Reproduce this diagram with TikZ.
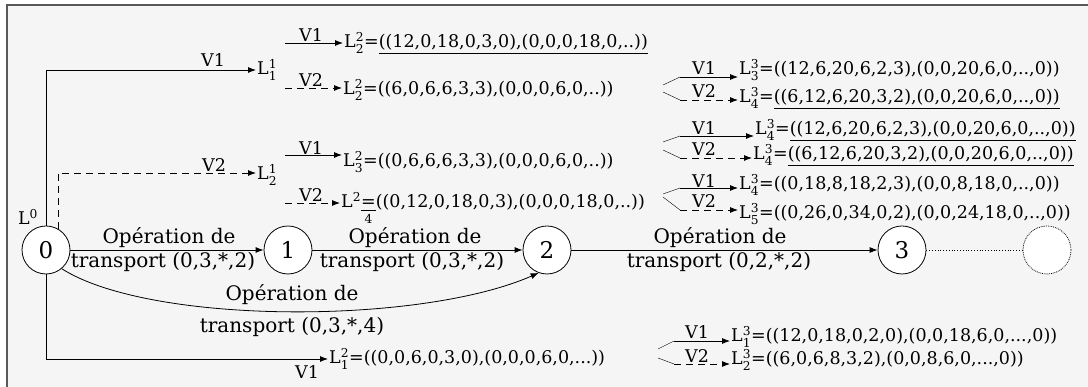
\documentclass[tikz,border=0pt]{standalone}
\usepackage{amsmath}
\usepackage{fontspec}
\setmainfont{DejaVu Serif}
\usepackage{tikz}
\usetikzlibrary{arrows.meta,positioning}

\tikzset{
  etat/.style={circle,draw,fill=white,minimum size=48pt,inner sep=0pt,line width=0.8pt,font=\fontsize{23}{25}\selectfont},
  lig/.style={font=\fontsize{17.5}{19}\selectfont,inner sep=1pt},
  op/.style={font=\fontsize{20}{22}\selectfont,inner sep=1pt,anchor=base},
  fl/.style={-{Latex[length=8pt,width=6pt]},line width=0.8pt},
  tir/.style={dash pattern=on 7pt off 5pt},
}
\newcommand{\Lx}[2]{L$^{\text{#2}}_{\text{#1}}$}

\begin{document}
\begin{tikzpicture}[x=1pt,y=1pt]
\useasboundingbox (0,0) rectangle (1088,387);
\draw[draw=black!65,fill=black!4,line width=1.2pt] (7,-3) rectangle (1092,382);

% etats
\node[etat] (n0) at (46,137) {0};
\node[etat] (n1) at (288,137) {1};
\node[etat] (n2) at (547,137) {2};
\node[etat] (n3) at (902,137) {3};
\node[etat,densely dotted] (n4) at (1047,137) {};
\node[lig] (l0) at (28,170) {L$^{\text{0}}$};

\draw[fl] (n0) -- (n1);
\draw[fl] (n1) -- (n2);
\draw[fl] (n2) -- (n3);
\draw[dotted,line width=0.8pt] (n3) -- (n4);
\draw[fl] (n0.-50) .. controls (150,62) and (420,62) .. (n2.-110);
\node[op] (o1a) at (169,143) {Opération de};
\node[op] (o1b) at (163,119) {transport (0,3,*,2)};
\node[op] (o2a) at (415,143) {Opération de};
\node[op] (o2b) at (412,119) {transport (0,3,*,2)};
\node[op] (o3a) at (720,143) {Opération de};
\node[op] (o3b) at (719,119) {transport (0,2,*,2)};
\node[op] (o4a) at (292,86) {Opération de};
\node[op] (o4b) at (292,54) {transport (0,3,*,4)};

% niveau 1
\node[lig,anchor=base west] (l11) at (256,312) {\Lx{1}{1}};
\node[lig,anchor=base west] (l21) at (256,207) {\Lx{2}{1}};
\node[lig,anchor=base west] (l12) at (328,23) {\Lx{1}{2}=((0,0,6,0,3,0),(0,0,0,6,0,...))};
\draw[fl] (n0.north) |- (l11.west |- 0,317);
\draw[fl,tir] (n0.60) |- (l21.west |- 0,214);
\draw[fl] (n0.south) |- (l12.west |- 0,28);
\node[lig,anchor=base] (v1) at (213,320) {V1};
\node[lig,anchor=base] (v2) at (214,215) {V2};
\node[lig,anchor=base] (v3) at (307,8) {V1};

% niveau 2
\node[lig,anchor=base west] (l22a) at (343,339) {\Lx{2}{2}=\underline{((12,0,18,0,3,0),(0,0,0,18,0,..))}};
\node[lig,anchor=base west] (l22b) at (342,292) {\Lx{2}{2}=((6,0,6,6,3,3),(0,0,0,6,0,..))};
\node[lig,anchor=base west] (l23) at (342,220) {\Lx{3}{2}=((0,6,6,6,3,3),(0,0,0,6,0,..))};
\node[lig,anchor=base west] (l24) at (340,179) {L$^{\text{2}}\underset{\text{4}}{\underline{\text{=}}}$((0,12,0,18,0,3),(0,0,0,18,0,..))};
\coordinate (a1) at (285,344);
\coordinate (a2) at (285,299);
\coordinate (b1) at (285,232);
\coordinate (b2) at (285,184);
\draw[fl] (a1) -- (a1 -| l22a.west);
\draw[fl,tir] (a2) -- (a2 -| l22b.west);
\draw[fl] (b1) -- (b1 -| l23.west);
\draw[fl,tir] (b2) -- (b2 -| l24.west);
\node[lig,anchor=base] (v4) at (311,345) {V1};
\node[lig,anchor=base] (v5) at (311,300) {V2};
\node[lig,anchor=base] (v6) at (311,232) {V1};
\node[lig,anchor=base] (v7) at (311,185) {V2};

% niveau 3
\node[lig,anchor=base west] (l33) at (738,312) {\Lx{3}{3}=((12,6,20,6,2,3),(0,0,20,6,0,..,0))};
\node[lig,anchor=base west] (l34a) at (738,284) {\Lx{4}{3}=\underline{((6,12,6,20,3,2),(0,0,20,6,0,..,0))}};
\node[lig,anchor=base west] (l34b) at (754,252) {\Lx{4}{3}=\underline{((12,6,20,6,2,3),(0,0,20,6,0,..,0))}};
\node[lig,anchor=base west] (l34c) at (752,227) {\Lx{4}{3}=\underline{((6,12,6,20,3,2),(0,0,20,6,0,..,0))}};
\node[lig,anchor=base west] (l34d) at (738,197) {\Lx{4}{3}=((0,18,8,18,2,3),(0,0,8,18,0,..,0))};
\node[lig,anchor=base west] (l35) at (738,168) {\Lx{5}{3}=((0,26,0,34,0,2),(0,0,24,18,0,..,0))};
\node[lig,anchor=base west] (l31) at (730,45) {\Lx{1}{3}=((12,0,18,0,2,0),(0,0,18,6,0,...,0))};
\node[lig,anchor=base west] (l32) at (730,22) {\Lx{2}{3}=((6,0,6,8,3,2),(0,0,8,6,0,...,0))};

\draw (663,302) -- (680,310) coordinate (fa1);
\draw (663,295) -- (680,287) coordinate (fa2);
\draw (663,245) -- (680,251) coordinate (fb1);
\draw (663,237) -- (680,229) coordinate (fb2);
\draw (663,193) -- (680,199) coordinate (fc1);
\draw (663,190) -- (680,177) coordinate (fc2);
\draw (658,38) -- (674,46) coordinate (fd1);
\draw (658,29) -- (674,23) coordinate (fd2);
\draw[fl] (fa1) -- (fa1 -| l33.west);
\draw[fl,tir] (fa2) -- (fa2 -| l34a.west);
\draw[fl] (fb1) -- (fb1 -| l34b.west);
\draw[fl,tir] (fb2) -- (fb2 -| l34c.west);
\draw[fl] (fc1) -- (fc1 -| l34d.west);
\draw[fl,tir] (fc2) -- (fc2 -| l35.west);
\draw[fl] (fd1) -- (fd1 -| l31.west);
\draw[fl,tir] (fd2) -- (fd2 -| l32.west);
\node[lig,anchor=base] (v8) at (704,312) {V1};
\node[lig,anchor=base] (v9) at (704,289) {V2};
\node[lig,anchor=base] (v10) at (704,252) {V1};
\node[lig,anchor=base] (v11) at (704,231) {V2};
\node[lig,anchor=base] (v12) at (704,199) {V1};
\node[lig,anchor=base] (v13) at (704,179) {V2};
\node[lig,anchor=base] (v14) at (697,48) {V1};
\node[lig,anchor=base] (v15) at (697,24) {V2};
\end{tikzpicture}
\end{document}
